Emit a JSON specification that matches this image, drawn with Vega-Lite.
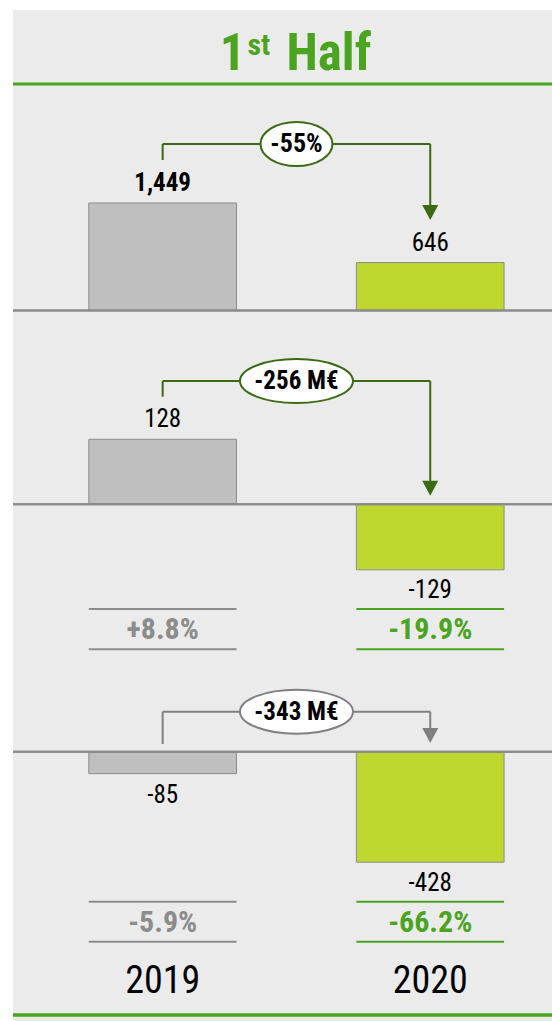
{
  "$schema": "https://vega.github.io/schema/vega-lite/v6.json",
  "background": "white",
  "padding": {"left": 11, "top": 10, "right": 0, "bottom": 0},
  "bounds": "flush",
  "spacing": 0,
  "resolve": {"scale": {"color": "independent"}},
  "config": {
    "view": {"stroke": null, "fill": "#ebebeb"},
    "axis": {"disable": true},
    "font": "Roboto Condensed",
    "text": {"font": "Roboto Condensed", "color": "#000000"},
    "locale": {"number": {"decimal": ".", "thousands": ",", "grouping": [3], "currency": ["", " €"], "minus": "-"}}
  },
  "datasets": {
    "header": [{"section": "1st Half"}],
    "results": [
      {"metric": "Revenue", "year": "2019", "value": 1449, "margin": null},
      {"metric": "Revenue", "year": "2020", "value": 646, "margin": null},
      {"metric": "EBITDA", "year": "2019", "value": 128, "margin": 0.088},
      {"metric": "EBITDA", "year": "2020", "value": -129, "margin": -0.199},
      {"metric": "Net income", "year": "2019", "value": -85, "margin": -0.059},
      {"metric": "Net income", "year": "2020", "value": -428, "margin": -0.662}
    ],
    "changes": [
      {"metric": "Revenue", "from": "2019", "to": "2020", "label": "-55%"},
      {"metric": "EBITDA", "from": "2019", "to": "2020", "label": "-256 M€"},
      {"metric": "Net income", "from": "2019", "to": "2020", "label": "-343 M€"}
    ]
  },
  "vconcat": [
    {
      "width": 541, "height": 90,
      "data": {"name": "header"},
      "encoding": {"y": {"field": "section", "type": "nominal", "scale": {"type": "band", "domain": ["1st Half"], "paddingInner": 0, "paddingOuter": 0.108, "align": 0}}},
      "layer": [
        {"mark": {"type": "rule", "color": "#4ba41f", "strokeWidth": 3}, "encoding": {"y": {"field": "section", "type": "nominal", "bandPosition": 1}}},
        {"mark": {"type": "text", "text": "1", "fontSize": 51, "fontWeight": "bold", "align": "right", "baseline": "alphabetic", "dx": -38, "dy": 23, "color": "#4ba41f"}},
        {"mark": {"type": "text", "text": "st", "fontSize": 30, "fontWeight": "bold", "align": "left", "baseline": "alphabetic", "dx": -36, "dy": 8, "color": "#4ba41f"}},
        {"mark": {"type": "text", "text": "Half", "fontSize": 51, "fontWeight": "bold", "align": "left", "baseline": "alphabetic", "dx": 3, "dy": 23, "color": "#4ba41f"}}
      ]
    },
    {
      "width": 541, "height": 230,
      "layer": [
        {
          "data": {"name": "results"},
          "transform": [{"filter": "datum.metric === 'Revenue'"}],
          "layer": [
            {"mark": {"type": "bar", "stroke": "#8c8c8c", "strokeWidth": 1},
             "encoding": {
               "x": {"field": "year", "type": "nominal", "scale": {"type": "band", "domain": ["2019", "2020"], "paddingInner": 0.448, "paddingOuter": 0.235, "align": 0.603}},
               "y": {"field": "value", "type": "quantitative", "scale": {"domain": [-263, 2837], "nice": false, "zero": false}},
               "y2": {"datum": 0},
               "color": {"field": "year", "type": "nominal", "scale": {"domain": ["2019", "2020"], "range": ["#bfbfbf", "#c0d72f"]}, "legend": null}}},
            {"mark": {"type": "rule", "color": "#8a8a8a", "strokeWidth": 2},
             "encoding": {"y": {"datum": 0, "type": "quantitative", "scale": {"domain": [-263, 2837], "nice": false, "zero": false}}}},
            {"transform": [{"filter": "datum.year === '2019'"}],
             "mark": {"type": "text", "fontSize": 25, "fontWeight": "bold", "baseline": "middle", "dy": -20},
             "encoding": {
               "x": {"field": "year", "type": "nominal", "scale": {"type": "band", "domain": ["2019", "2020"], "paddingInner": 0.448, "paddingOuter": 0.235, "align": 0.603}},
               "y": {"field": "value", "type": "quantitative", "scale": {"domain": [-263, 2837], "nice": false, "zero": false}},
               "text": {"field": "value", "type": "quantitative", "format": ","}}},
            {"transform": [{"filter": "datum.year === '2020'"}],
             "mark": {"type": "text", "fontSize": 25, "baseline": "middle", "dy": -20},
             "encoding": {
               "x": {"field": "year", "type": "nominal", "scale": {"type": "band", "domain": ["2019", "2020"], "paddingInner": 0.448, "paddingOuter": 0.235, "align": 0.603}},
               "y": {"field": "value", "type": "quantitative", "scale": {"domain": [-263, 2837], "nice": false, "zero": false}},
               "text": {"field": "value", "type": "quantitative", "format": ","}}}
          ]
        },
        {
          "data": {"name": "changes"},
          "transform": [{"filter": "datum.metric === 'Revenue'"}],
          "layer": [
            {"mark": {"type": "rule", "color": "#3a6b14", "strokeWidth": 2},
             "encoding": {
               "x": {"field": "from", "type": "nominal", "bandPosition": 0.5, "scale": {"type": "band", "domain": ["2019", "2020"], "paddingInner": 0.448, "paddingOuter": 0.235, "align": 0.603}},
               "y": {"datum": 2244, "type": "quantitative", "scale": {"domain": [-263, 2837], "nice": false, "zero": false}},
               "y2": {"datum": 2028}}},
            {"mark": {"type": "rule", "color": "#3a6b14", "strokeWidth": 2},
             "encoding": {
               "x": {"field": "from", "type": "nominal", "bandPosition": 0.5, "scale": {"type": "band", "domain": ["2019", "2020"], "paddingInner": 0.448, "paddingOuter": 0.235, "align": 0.603}},
               "x2": {"field": "to", "bandPosition": 0.5},
               "y": {"datum": 2244, "type": "quantitative", "scale": {"domain": [-263, 2837], "nice": false, "zero": false}}}},
            {"mark": {"type": "rule", "color": "#3a6b14", "strokeWidth": 2},
             "encoding": {
               "x": {"field": "to", "type": "nominal", "bandPosition": 0.5, "scale": {"type": "band", "domain": ["2019", "2020"], "paddingInner": 0.448, "paddingOuter": 0.235, "align": 0.603}},
               "y": {"datum": 2244, "type": "quantitative", "scale": {"domain": [-263, 2837], "nice": false, "zero": false}},
               "y2": {"datum": 1422}}},
            {"mark": {"type": "point", "shape": "M -1 -0.94 L 1 -0.94 L 0 0.94 Z", "size": 256, "filled": true, "fill": "#3a6b14", "strokeWidth": 0, "opacity": 1},
             "encoding": {
               "x": {"field": "to", "type": "nominal", "bandPosition": 0.5, "scale": {"type": "band", "domain": ["2019", "2020"], "paddingInner": 0.448, "paddingOuter": 0.235, "align": 0.603}},
               "y": {"datum": 1321, "type": "quantitative", "scale": {"domain": [-263, 2837], "nice": false, "zero": false}}}},
            {"mark": {"type": "point", "shape": "M -1.636 0 A 1.636 1 0 1 1 1.636 0 A 1.636 1 0 1 1 -1.636 0 Z", "size": 1936, "filled": true, "fill": "#ffffff", "stroke": "#3a6b14", "strokeWidth": 2, "opacity": 1},
             "encoding": {
               "x": {"field": "from", "type": "nominal", "bandPosition": 1.406, "scale": {"type": "band", "domain": ["2019", "2020"], "paddingInner": 0.448, "paddingOuter": 0.235, "align": 0.603}},
               "y": {"datum": 2244, "type": "quantitative", "scale": {"domain": [-263, 2837], "nice": false, "zero": false}}}},
            {"mark": {"type": "text", "fontSize": 26, "fontWeight": "bold", "baseline": "middle"},
             "encoding": {
               "x": {"field": "from", "type": "nominal", "bandPosition": 1.406, "scale": {"type": "band", "domain": ["2019", "2020"], "paddingInner": 0.448, "paddingOuter": 0.235, "align": 0.603}},
               "y": {"datum": 2244, "type": "quantitative", "scale": {"domain": [-263, 2837], "nice": false, "zero": false}},
               "text": {"field": "label"}}}
          ]
        }
      ]
    },
    {
      "width": 541, "height": 270,
      "layer": [
        {
          "data": {"name": "results"},
          "transform": [{"filter": "datum.metric === 'EBITDA'"}],
          "layer": [
            {"mark": {"type": "bar", "stroke": "#8c8c8c", "strokeWidth": 1},
             "encoding": {
               "x": {"field": "year", "type": "nominal", "scale": {"type": "band", "domain": ["2019", "2020"], "paddingInner": 0.448, "paddingOuter": 0.235, "align": 0.603}},
               "y": {"field": "value", "type": "quantitative", "scale": {"domain": [-188.4, 343.1], "nice": false, "zero": false}},
               "y2": {"datum": 0},
               "color": {"field": "year", "type": "nominal", "scale": {"domain": ["2019", "2020"], "range": ["#bfbfbf", "#c0d72f"]}, "legend": null}}},
            {"mark": {"type": "rule", "color": "#8a8a8a", "strokeWidth": 2},
             "encoding": {"y": {"datum": 0, "type": "quantitative", "scale": {"domain": [-188.4, 343.1], "nice": false, "zero": false}}}},
            {"transform": [{"filter": "datum.value >= 0"}],
             "mark": {"type": "text", "fontSize": 25, "baseline": "middle", "dy": -20},
             "encoding": {
               "x": {"field": "year", "type": "nominal", "scale": {"type": "band", "domain": ["2019", "2020"], "paddingInner": 0.448, "paddingOuter": 0.235, "align": 0.603}},
               "y": {"field": "value", "type": "quantitative", "scale": {"domain": [-188.4, 343.1], "nice": false, "zero": false}},
               "text": {"field": "value", "type": "quantitative", "format": ","}}},
            {"transform": [{"filter": "datum.value < 0"}],
             "mark": {"type": "text", "fontSize": 25, "baseline": "middle", "dy": 20},
             "encoding": {
               "x": {"field": "year", "type": "nominal", "scale": {"type": "band", "domain": ["2019", "2020"], "paddingInner": 0.448, "paddingOuter": 0.235, "align": 0.603}},
               "y": {"field": "value", "type": "quantitative", "scale": {"domain": [-188.4, 343.1], "nice": false, "zero": false}},
               "text": {"field": "value", "type": "quantitative", "format": ","}}}
          ]
        },
        {
          "data": {"name": "changes"},
          "transform": [{"filter": "datum.metric === 'EBITDA'"}],
          "layer": [
            {"mark": {"type": "rule", "color": "#3a6b14", "strokeWidth": 2},
             "encoding": {
               "x": {"field": "from", "type": "nominal", "bandPosition": 0.5, "scale": {"type": "band", "domain": ["2019", "2020"], "paddingInner": 0.448, "paddingOuter": 0.235, "align": 0.603}},
               "y": {"datum": 242.7, "type": "quantitative", "scale": {"domain": [-188.4, 343.1], "nice": false, "zero": false}},
               "y2": {"datum": 211.8}}},
            {"mark": {"type": "rule", "color": "#3a6b14", "strokeWidth": 2},
             "encoding": {
               "x": {"field": "from", "type": "nominal", "bandPosition": 0.5, "scale": {"type": "band", "domain": ["2019", "2020"], "paddingInner": 0.448, "paddingOuter": 0.235, "align": 0.603}},
               "x2": {"field": "to", "bandPosition": 0.5},
               "y": {"datum": 242.7, "type": "quantitative", "scale": {"domain": [-188.4, 343.1], "nice": false, "zero": false}}}},
            {"mark": {"type": "rule", "color": "#3a6b14", "strokeWidth": 2},
             "encoding": {
               "x": {"field": "to", "type": "nominal", "bandPosition": 0.5, "scale": {"type": "band", "domain": ["2019", "2020"], "paddingInner": 0.448, "paddingOuter": 0.235, "align": 0.603}},
               "y": {"datum": 242.7, "type": "quantitative", "scale": {"domain": [-188.4, 343.1], "nice": false, "zero": false}},
               "y2": {"datum": 45.9}}},
            {"mark": {"type": "point", "shape": "M -1 -0.94 L 1 -0.94 L 0 0.94 Z", "size": 256, "filled": true, "fill": "#3a6b14", "strokeWidth": 0, "opacity": 1},
             "encoding": {
               "x": {"field": "to", "type": "nominal", "bandPosition": 0.5, "scale": {"type": "band", "domain": ["2019", "2020"], "paddingInner": 0.448, "paddingOuter": 0.235, "align": 0.603}},
               "y": {"datum": 31.5, "type": "quantitative", "scale": {"domain": [-188.4, 343.1], "nice": false, "zero": false}}}},
            {"mark": {"type": "point", "shape": "M -2.568 0 A 2.568 1 0 1 1 2.568 0 A 2.568 1 0 1 1 -2.568 0 Z", "size": 1936, "filled": true, "fill": "#ffffff", "stroke": "#3a6b14", "strokeWidth": 2, "opacity": 1},
             "encoding": {
               "x": {"field": "from", "type": "nominal", "bandPosition": 1.406, "scale": {"type": "band", "domain": ["2019", "2020"], "paddingInner": 0.448, "paddingOuter": 0.235, "align": 0.603}},
               "y": {"datum": 242.7, "type": "quantitative", "scale": {"domain": [-188.4, 343.1], "nice": false, "zero": false}}}},
            {"mark": {"type": "text", "fontSize": 25, "fontWeight": "bold", "baseline": "middle"},
             "encoding": {
               "x": {"field": "from", "type": "nominal", "bandPosition": 1.406, "scale": {"type": "band", "domain": ["2019", "2020"], "paddingInner": 0.448, "paddingOuter": 0.235, "align": 0.603}},
               "y": {"datum": 242.7, "type": "quantitative", "scale": {"domain": [-188.4, 343.1], "nice": false, "zero": false}},
               "text": {"field": "label"}}}
          ]
        }
      ]
    },
    {
      "width": 541, "height": 60,
      "data": {"name": "results"},
      "transform": [{"filter": "datum.metric === 'EBITDA'"}],
      "encoding": {"color": {"field": "year", "type": "nominal", "scale": {"domain": ["2019", "2020"], "range": ["#8c8c8c", "#4ba41f"]}, "legend": null}},
      "layer": [
        {"mark": {"type": "rule", "strokeWidth": 2},
         "encoding": {
           "x": {"field": "year", "type": "nominal", "bandPosition": 0, "scale": {"type": "band", "domain": ["2019", "2020"], "paddingInner": 0.448, "paddingOuter": 0.235, "align": 0.603}},
           "x2": {"field": "year", "bandPosition": 1},
           "y": {"field": "metric", "type": "nominal", "bandPosition": 0, "scale": {"type": "band", "domain": ["EBITDA"], "paddingInner": 0, "paddingOuter": 0.2444, "align": 0.457}}}},
        {"mark": {"type": "rule", "strokeWidth": 2},
         "encoding": {
           "x": {"field": "year", "type": "nominal", "bandPosition": 0, "scale": {"type": "band", "domain": ["2019", "2020"], "paddingInner": 0.448, "paddingOuter": 0.235, "align": 0.603}},
           "x2": {"field": "year", "bandPosition": 1},
           "y": {"field": "metric", "type": "nominal", "bandPosition": 1, "scale": {"type": "band", "domain": ["EBITDA"], "paddingInner": 0, "paddingOuter": 0.2444, "align": 0.457}}}},
        {"mark": {"type": "text", "fontSize": 30, "fontWeight": "bold", "baseline": "middle", "dy": 1},
         "encoding": {
           "x": {"field": "year", "type": "nominal", "scale": {"type": "band", "domain": ["2019", "2020"], "paddingInner": 0.448, "paddingOuter": 0.235, "align": 0.603}},
           "y": {"field": "metric", "type": "nominal", "scale": {"type": "band", "domain": ["EBITDA"], "paddingInner": 0, "paddingOuter": 0.2444, "align": 0.457}},
           "text": {"field": "margin", "type": "quantitative", "format": "+.1%"}}}
      ]
    },
    {
      "width": 541, "height": 235,
      "layer": [
        {
          "data": {"name": "results"},
          "transform": [{"filter": "datum.metric === 'Net income'"}],
          "layer": [
            {"mark": {"type": "bar", "stroke": "#8c8c8c", "strokeWidth": 1},
             "encoding": {
               "x": {"field": "year", "type": "nominal", "scale": {"type": "band", "domain": ["2019", "2020"], "paddingInner": 0.448, "paddingOuter": 0.235, "align": 0.603}},
               "y": {"field": "value", "type": "quantitative", "scale": {"domain": [-555, 355.1], "nice": false, "zero": false}},
               "y2": {"datum": 0},
               "color": {"field": "year", "type": "nominal", "scale": {"domain": ["2019", "2020"], "range": ["#bfbfbf", "#c0d72f"]}, "legend": null}}},
            {"mark": {"type": "rule", "color": "#8a8a8a", "strokeWidth": 2},
             "encoding": {"y": {"datum": 0, "type": "quantitative", "scale": {"domain": [-555, 355.1], "nice": false, "zero": false}}}},
            {"mark": {"type": "text", "fontSize": 25, "baseline": "middle", "dy": 21},
             "encoding": {
               "x": {"field": "year", "type": "nominal", "scale": {"type": "band", "domain": ["2019", "2020"], "paddingInner": 0.448, "paddingOuter": 0.235, "align": 0.603}},
               "y": {"field": "value", "type": "quantitative", "scale": {"domain": [-555, 355.1], "nice": false, "zero": false}},
               "text": {"field": "value", "type": "quantitative", "format": ","}}}
          ]
        },
        {
          "data": {"name": "changes"},
          "transform": [{"filter": "datum.metric === 'Net income'"}],
          "layer": [
            {"mark": {"type": "rule", "color": "#808080", "strokeWidth": 2},
             "encoding": {
               "x": {"field": "from", "type": "nominal", "bandPosition": 0.5, "scale": {"type": "band", "domain": ["2019", "2020"], "paddingInner": 0.448, "paddingOuter": 0.235, "align": 0.603}},
               "y": {"datum": 154.9, "type": "quantitative", "scale": {"domain": [-555, 355.1], "nice": false, "zero": false}},
               "y2": {"datum": 29.8}}},
            {"mark": {"type": "rule", "color": "#808080", "strokeWidth": 2},
             "encoding": {
               "x": {"field": "from", "type": "nominal", "bandPosition": 0.5, "scale": {"type": "band", "domain": ["2019", "2020"], "paddingInner": 0.448, "paddingOuter": 0.235, "align": 0.603}},
               "x2": {"field": "to", "bandPosition": 0.5},
               "y": {"datum": 154.9, "type": "quantitative", "scale": {"domain": [-555, 355.1], "nice": false, "zero": false}}}},
            {"mark": {"type": "rule", "color": "#808080", "strokeWidth": 2},
             "encoding": {
               "x": {"field": "to", "type": "nominal", "bandPosition": 0.5, "scale": {"type": "band", "domain": ["2019", "2020"], "paddingInner": 0.448, "paddingOuter": 0.235, "align": 0.603}},
               "y": {"datum": 154.9, "type": "quantitative", "scale": {"domain": [-555, 355.1], "nice": false, "zero": false}},
               "y2": {"datum": 91.8}}},
            {"mark": {"type": "point", "shape": "M -1 -0.94 L 1 -0.94 L 0 0.94 Z", "size": 256, "filled": true, "fill": "#808080", "strokeWidth": 0, "opacity": 1},
             "encoding": {
               "x": {"field": "to", "type": "nominal", "bandPosition": 0.5, "scale": {"type": "band", "domain": ["2019", "2020"], "paddingInner": 0.448, "paddingOuter": 0.235, "align": 0.603}},
               "y": {"datum": 62.7, "type": "quantitative", "scale": {"domain": [-555, 355.1], "nice": false, "zero": false}}}},
            {"mark": {"type": "point", "shape": "M -2.568 0 A 2.568 1 0 1 1 2.568 0 A 2.568 1 0 1 1 -2.568 0 Z", "size": 1936, "filled": true, "fill": "#ffffff", "stroke": "#808080", "strokeWidth": 2, "opacity": 1},
             "encoding": {
               "x": {"field": "from", "type": "nominal", "bandPosition": 1.406, "scale": {"type": "band", "domain": ["2019", "2020"], "paddingInner": 0.448, "paddingOuter": 0.235, "align": 0.603}},
               "y": {"datum": 154.9, "type": "quantitative", "scale": {"domain": [-555, 355.1], "nice": false, "zero": false}}}},
            {"mark": {"type": "text", "fontSize": 25, "fontWeight": "bold", "baseline": "middle"},
             "encoding": {
               "x": {"field": "from", "type": "nominal", "bandPosition": 1.406, "scale": {"type": "band", "domain": ["2019", "2020"], "paddingInner": 0.448, "paddingOuter": 0.235, "align": 0.603}},
               "y": {"datum": 154.9, "type": "quantitative", "scale": {"domain": [-555, 355.1], "nice": false, "zero": false}},
               "text": {"field": "label"}}}
          ]
        }
      ]
    },
    {
      "width": 541, "height": 60,
      "data": {"name": "results"},
      "transform": [{"filter": "datum.metric === 'Net income'"}],
      "encoding": {"color": {"field": "year", "type": "nominal", "scale": {"domain": ["2019", "2020"], "range": ["#8c8c8c", "#4ba41f"]}, "legend": null}},
      "layer": [
        {"mark": {"type": "rule", "strokeWidth": 2},
         "encoding": {
           "x": {"field": "year", "type": "nominal", "bandPosition": 0, "scale": {"type": "band", "domain": ["2019", "2020"], "paddingInner": 0.448, "paddingOuter": 0.235, "align": 0.603}},
           "x2": {"field": "year", "bandPosition": 1},
           "y": {"field": "metric", "type": "nominal", "bandPosition": 0, "scale": {"type": "band", "domain": ["Net income"], "paddingInner": 0, "paddingOuter": 0.25, "align": 0.335}}}},
        {"mark": {"type": "rule", "strokeWidth": 2},
         "encoding": {
           "x": {"field": "year", "type": "nominal", "bandPosition": 0, "scale": {"type": "band", "domain": ["2019", "2020"], "paddingInner": 0.448, "paddingOuter": 0.235, "align": 0.603}},
           "x2": {"field": "year", "bandPosition": 1},
           "y": {"field": "metric", "type": "nominal", "bandPosition": 1, "scale": {"type": "band", "domain": ["Net income"], "paddingInner": 0, "paddingOuter": 0.25, "align": 0.335}}}},
        {"mark": {"type": "text", "fontSize": 30, "fontWeight": "bold", "baseline": "middle", "dy": 1},
         "encoding": {
           "x": {"field": "year", "type": "nominal", "scale": {"type": "band", "domain": ["2019", "2020"], "paddingInner": 0.448, "paddingOuter": 0.235, "align": 0.603}},
           "y": {"field": "metric", "type": "nominal", "scale": {"type": "band", "domain": ["Net income"], "paddingInner": 0, "paddingOuter": 0.25, "align": 0.335}},
           "text": {"field": "margin", "type": "quantitative", "format": "+.1%"}}}
      ]
    },
    {
      "width": 541, "height": 66,
      "data": {"name": "results"},
      "transform": [{"filter": "datum.metric === 'Net income'"}],
      "layer": [
        {"mark": {"type": "rule", "color": "#4ba41f", "strokeWidth": 3},
         "encoding": {
           "y": {"field": "metric", "type": "nominal", "bandPosition": 1, "scale": {"type": "band", "domain": ["Net income"], "paddingInner": 0, "paddingOuter": 0.05, "align": 0}}}},
        {"mark": {"type": "text", "fontSize": 38, "baseline": "middle", "dy": -3},
         "encoding": {
           "x": {"field": "year", "type": "nominal", "scale": {"type": "band", "domain": ["2019", "2020"], "paddingInner": 0.448, "paddingOuter": 0.235, "align": 0.603}},
           "y": {"field": "metric", "type": "nominal", "scale": {"type": "band", "domain": ["Net income"], "paddingInner": 0, "paddingOuter": 0.05, "align": 0}},
           "text": {"field": "year", "type": "nominal"}}}
      ]
    }
  ]
}
